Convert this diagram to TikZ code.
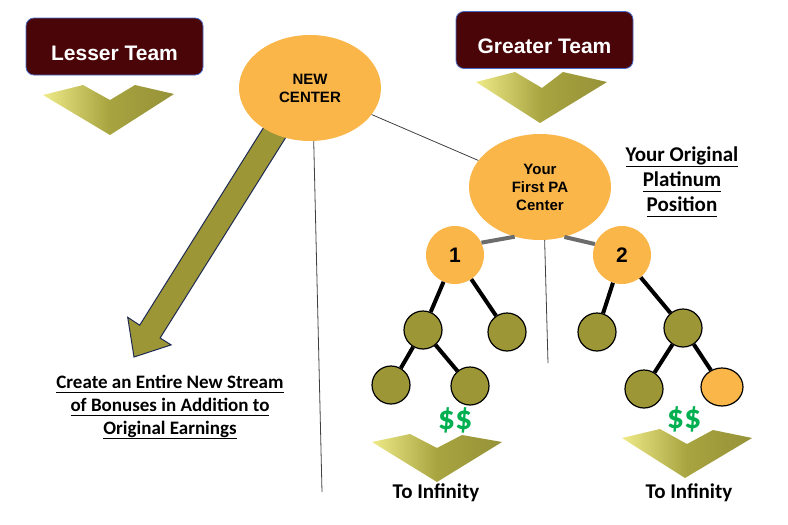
\documentclass[tikz,border=0pt]{standalone}
\usepackage{fontspec}
\setmainfont{Liberation Sans}
\newfontfamily\calibfont{Carlito}
\usetikzlibrary{positioning, shapes.geometric}

\definecolor{teambox}{HTML}{4A0508}
\definecolor{boxline}{HTML}{4A6CC8}
\definecolor{hubfill}{HTML}{FBB64A}
\definecolor{olivefill}{HTML}{9C9636}
\definecolor{chevlight}{HTML}{EEEA88}
\definecolor{chevmid}{HTML}{A8A440}
\definecolor{chevdark}{HTML}{969238}
\definecolor{arrowline}{HTML}{1F2A55}
\definecolor{money}{HTML}{00B050}

\newcommand{\ulbf}[1]{\underline{\vphantom{g}#1}}

\begin{document}
\begin{tikzpicture}[x=1pt, y=-1pt,
  team/.style={rectangle, rounded corners=8pt, draw=boxline, line width=0.8pt,
    fill=teambox, minimum width=177pt, minimum height=57pt},
  teamtext/.style={text=white, font=\bfseries\fontsize{21}{23}\selectfont},
  hub/.style={ellipse, fill=hubfill, align=center, inner sep=0pt,
    minimum width=142pt, minimum height=106pt,
    font=\bfseries\fontsize{15}{18}\selectfont},
  leg/.style={circle, fill=hubfill, minimum size=58pt, inner sep=0pt,
    font=\bfseries\fontsize{21}{23}\selectfont},
  leaf/.style={circle, draw=black, line width=1.2pt, fill=olivefill,
    minimum size=38pt, inner sep=0pt},
  note/.style={align=center, font=\calibfont\bfseries\fontsize{21}{25}\selectfont},
  cash/.style={text=money, font=\calibfont\bfseries\fontsize{34}{34}\selectfont},
  chev/.style={left color=chevlight, right color=chevdark, middle color=chevmid},
  tree/.style={line width=4pt, black},
  spur/.style={line width=4pt, gray!85!black},
  thin/.style={line width=0.8pt, black!75}]
  \useasboundingbox (0,0) rectangle (788,525);

  % chevrons
  \shade[chev]
    (43,95) -- (83,85) -- (110,100) -- (135,85) -- (174,94) -- (110,135) -- cycle;
  \shade[chev]
    (476,82) -- (515,72) -- (542,88) -- (563,72) -- (607,82) -- (540,123) -- cycle;
  \shade[chev]
    (372,442) -- (410,434) -- (437,448) -- (462,435) -- (502,442) -- (437,482) -- cycle;
  \shade[chev]
    (622,438) -- (660,429) -- (687,444) -- (713,430) -- (752,438) -- (685,478) -- cycle;

  % big arrow
  \filldraw[fill=olivefill, draw=arrowline, line width=1pt, line join=miter]
    (300.2,114.4) -- (160.1,338) -- (171.1,344.9) -- (134,357)
    -- (127.7,317.3) -- (139.7,325.2) -- (279.8,101.6) -- cycle;

  \node[team] (lesser) at (114.5,46.5) {};
  \node[teamtext] (lessertxt) at ([yshift=-7pt]lesser.center) {Lesser Team};
  \node[team] (greater) at (544.5,40) {};
  \node[teamtext] (greatertxt) at ([yshift=-6pt]greater.center) {Greater Team};

  \node[hub] (new) at (310,88) {NEW\\CENTER};
  \node[hub] (pa) at (540,187) {Your\\First PA\\Center};

  \node[leg] (n1) at (455,255) {1};
  \node[leg] (n2) at (622,255) {2};

  \node[leaf] (l1a) at (423,330) {};
  \node[leaf] (l1b) at (507,332) {};
  \node[leaf] (l3a) at (391,385) {};
  \node[leaf] (l3b) at (470,386) {};
  \node[leaf] (r2a) at (597,332) {};
  \node[leaf] (r2b) at (683,328) {};
  \node[leaf] (r3a) at (644,389) {};
  \node[ellipse, draw=black, line width=1.2pt, fill=hubfill,
    minimum width=42pt, minimum height=38pt, inner sep=0pt] (r3b) at (722,387) {};

  \coordinate (newfoot) at (322,492);
  \coordinate (pafoot) at (548,363);

  \node[note] (platinum) at (682,182)
    {\ulbf{Your Original}\\\ulbf{Platinum}\\\ulbf{Position}};
  \node[note, font=\calibfont\bfseries\fontsize{19}{23}\selectfont] (stream) at (170,407)
    {\ulbf{Create an Entire New Stream}\\\ulbf{of Bonuses in Addition to}\\\ulbf{Original Earnings}};

  \node[cash] (cashl) at (455,420) {\$\$};
  \node[cash] (cashr) at (684,419) {\$\$};
  \node[note] (infl) at (436,493) {To Infinity};
  \node[note] (infr) at (689,493) {To Infinity};

  \path[thin]
  (new) edge (pa)
  (new.-86) edge (newfoot)
  (pa.-85) edge (pafoot);

  \path[spur]
  (n1.25) edge (pa.243)
  (n2.158) edge (pa.296);

  \path[tree]
  (n1) edge (l1a)
  (n1) edge (l1b)
  (l1a) edge (l3a)
  (l1a) edge (l3b)
  (n2) edge (r2a)
  (n2) edge (r2b)
  (r2b) edge (r3a)
  (r2b) edge (r3b);
\end{tikzpicture}
\end{document}
